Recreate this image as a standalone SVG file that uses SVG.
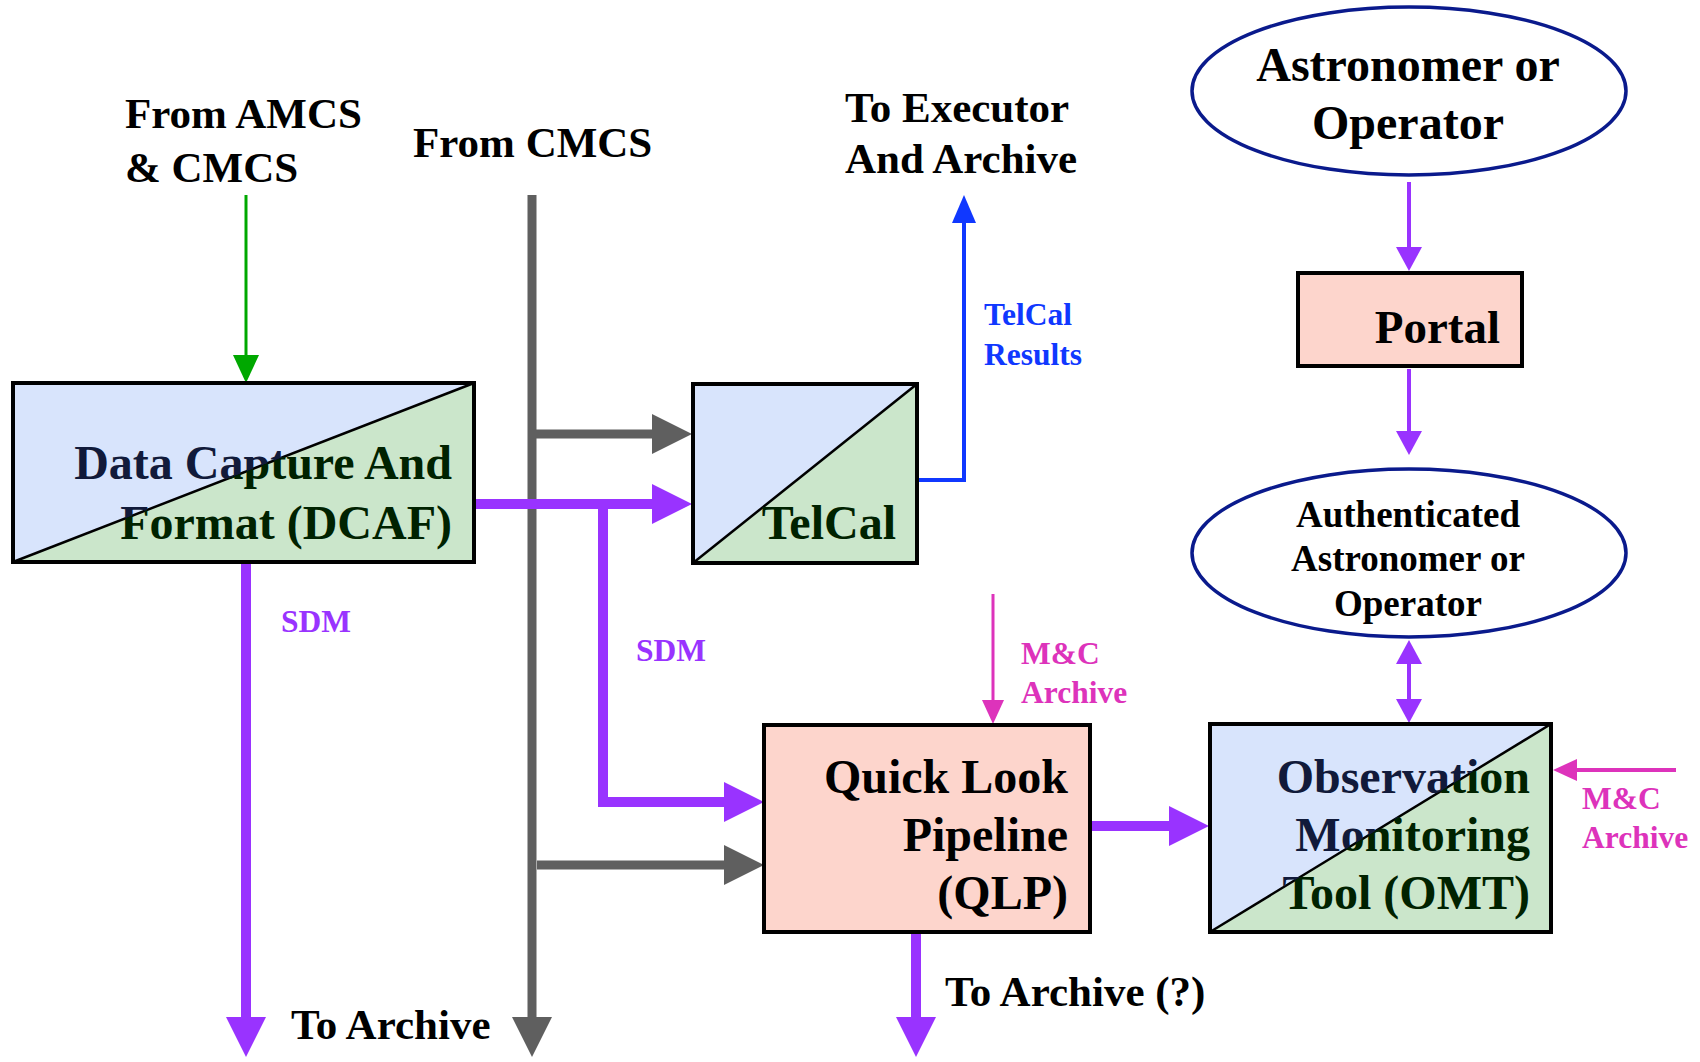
<svg xmlns="http://www.w3.org/2000/svg" width="1700" height="1062" viewBox="0 0 1700 1062">
<style>
text{font-family:"Liberation Serif","Times New Roman",serif;font-weight:bold}
.big{font-size:43px;fill:#000}
.node{font-size:48px}
.lbl{font-size:31.5px}
.box{fill:none;stroke:#000;stroke-width:4}
.diag{stroke:#000;stroke-width:2.5}
.fb{fill:#d8e4fc}
.fg{fill:#cbe6cb}
.fs{fill:#fdd5cc}
.ell{fill:#fff;stroke:#0a1a8c;stroke-width:3.5}
.pb{fill:none;stroke:#9933ff;stroke-width:10}
.gb{fill:none;stroke:#5f5f5f;stroke-width:9}
.ps{fill:none;stroke:#9933ff;stroke-width:4}
.tn{fill:#111a3a}
.tg{fill:#002200}
</style>
<defs>
<marker id="mPB" markerUnits="userSpaceOnUse" markerWidth="40" markerHeight="40" refX="0" refY="20" orient="auto"><path d="M0,0 L40,20 L0,40 Z" fill="#9933ff"/></marker>
<marker id="mGB" markerUnits="userSpaceOnUse" markerWidth="40" markerHeight="40" refX="0" refY="20" orient="auto"><path d="M0,0 L40,20 L0,40 Z" fill="#5f5f5f"/></marker>
<marker id="mPS" markerUnits="userSpaceOnUse" markerWidth="24" markerHeight="26" refX="0" refY="13" orient="auto-start-reverse"><path d="M0,0 L24,13 L0,26 Z" fill="#9933ff"/></marker>
<marker id="mGr" markerUnits="userSpaceOnUse" markerWidth="28" markerHeight="26" refX="0" refY="13" orient="auto"><path d="M0,0 L28,13 L0,26 Z" fill="#00a800"/></marker>
<marker id="mBl" markerUnits="userSpaceOnUse" markerWidth="28" markerHeight="24" refX="0" refY="12" orient="auto"><path d="M0,0 L28,12 L0,24 Z" fill="#1038ff"/></marker>
<marker id="mMg" markerUnits="userSpaceOnUse" markerWidth="24" markerHeight="22" refX="0" refY="11" orient="auto"><path d="M0,0 L24,11 L0,22 Z" fill="#dd33bb"/></marker>
<clipPath id="cDcafU"><polygon points="13,383 474,383 13,562"/></clipPath>
<clipPath id="cDcafL"><polygon points="474,383 474,562 13,562"/></clipPath>
<clipPath id="cTelU"><polygon points="693,384 917,384 693,563"/></clipPath>
<clipPath id="cTelL"><polygon points="917,384 917,563 693,563"/></clipPath>
<clipPath id="cOmtU"><polygon points="1210,724 1551,724 1210,932"/></clipPath>
<clipPath id="cOmtL"><polygon points="1551,724 1551,932 1210,932"/></clipPath>
</defs>
<rect width="1700" height="1062" fill="#fff"/>

<g id="labels">
<text class="big" x="125" y="128">From AMCS</text>
<text class="big" x="125" y="182">&amp; CMCS</text>
<text class="big" x="413" y="157">From CMCS</text>
<text class="big" x="845" y="122">To Executor</text>
<text class="big" x="845" y="173">And Archive</text>
<text class="lbl" x="984" y="325" fill="#1038ff">TelCal</text>
<text class="lbl" x="984" y="365" fill="#1038ff">Results</text>
<text class="lbl" x="281" y="632" fill="#9933ff">SDM</text>
<text class="lbl" x="636" y="661" fill="#9933ff">SDM</text>
<text class="lbl" x="1021" y="664" fill="#dd33bb">M&amp;C</text>
<text class="lbl" x="1021" y="703" fill="#dd33bb">Archive</text>
<text class="lbl" x="1582" y="809" fill="#dd33bb">M&amp;C</text>
<text class="lbl" x="1582" y="848" fill="#dd33bb">Archive</text>
<text class="big" x="291" y="1039">To Archive</text>
<text class="big" x="945" y="1006">To Archive (?)</text>
</g>

<g id="connectors">
<line x1="246" y1="195" x2="246" y2="355" stroke="#00a800" stroke-width="3" marker-end="url(#mGr)"/>
<line class="gb" x1="532" y1="195" x2="532" y2="1017" marker-end="url(#mGB)"/>
<line class="gb" x1="532" y1="434" x2="652" y2="434" marker-end="url(#mGB)"/>
<line class="gb" x1="537" y1="865" x2="724" y2="865" marker-end="url(#mGB)"/>
<line class="pb" x1="474" y1="504" x2="652" y2="504" marker-end="url(#mPB)"/>
<path class="pb" d="M603,504 V802 H724" marker-end="url(#mPB)"/>
<line class="pb" x1="246" y1="562" x2="246" y2="1017" marker-end="url(#mPB)"/>
<path d="M917,480 H964 V223" fill="none" stroke="#1038ff" stroke-width="4" marker-end="url(#mBl)"/>
<line class="ps" x1="1409" y1="182" x2="1409" y2="247" marker-end="url(#mPS)"/>
<line class="ps" x1="1409" y1="369" x2="1409" y2="431" marker-end="url(#mPS)"/>
<line class="ps" x1="1409" y1="664" x2="1409" y2="699" marker-start="url(#mPS)" marker-end="url(#mPS)"/>
<line x1="993" y1="594" x2="993" y2="700" stroke="#dd33bb" stroke-width="3" marker-end="url(#mMg)"/>
<line class="pb" x1="1090" y1="826" x2="1169" y2="826" marker-end="url(#mPB)"/>
<line class="pb" x1="916" y1="932" x2="916" y2="1017" marker-end="url(#mPB)"/>
<line x1="1676" y1="770" x2="1577" y2="770" stroke="#dd33bb" stroke-width="4" marker-end="url(#mMg)"/>
</g>

<g id="astronomer">
<ellipse class="ell" cx="1409" cy="91" rx="217" ry="84"/>
<text x="1408" y="81" text-anchor="middle" font-size="48" fill="#000">Astronomer or</text>
<text x="1408" y="139" text-anchor="middle" font-size="48" fill="#000">Operator</text>
</g>

<g id="portal">
<rect x="1298" y="273" width="224" height="93" class="fs"/>
<rect x="1298" y="273" width="224" height="93" class="box"/>
<text x="1500" y="343" text-anchor="end" font-size="47" fill="#000">Portal</text>
</g>

<g id="authenticated">
<ellipse class="ell" cx="1409" cy="553" rx="217" ry="84"/>
<text x="1408" y="527" text-anchor="middle" font-size="37" fill="#000">Authenticated</text>
<text x="1408" y="571" text-anchor="middle" font-size="37" fill="#000">Astronomer or</text>
<text x="1408" y="616" text-anchor="middle" font-size="37" fill="#000">Operator</text>
</g>

<g id="dcaf">
<rect x="13" y="383" width="461" height="179" class="fg"/>
<polygon points="13,383 474,383 13,562" class="fb"/>
<line x1="13" y1="562" x2="474" y2="383" class="diag"/>
<g clip-path="url(#cDcafU)" class="tn"><text x="452" y="479" text-anchor="end" class="node">Data Capture And</text><text x="452" y="539" text-anchor="end" class="node">Format (DCAF)</text></g>
<g clip-path="url(#cDcafL)" class="tg"><text x="452" y="479" text-anchor="end" class="node">Data Capture And</text><text x="452" y="539" text-anchor="end" class="node">Format (DCAF)</text></g>
<rect x="13" y="383" width="461" height="179" class="box"/>
</g>

<g id="telcal">
<rect x="693" y="384" width="224" height="179" class="fg"/>
<polygon points="693,384 917,384 693,563" class="fb"/>
<line x1="693" y1="563" x2="917" y2="384" class="diag"/>
<g clip-path="url(#cTelU)" class="tn"><text x="896" y="539" text-anchor="end" class="node">TelCal</text></g>
<g clip-path="url(#cTelL)" class="tg"><text x="896" y="539" text-anchor="end" class="node">TelCal</text></g>
<rect x="693" y="384" width="224" height="179" class="box"/>
</g>

<g id="qlp">
<rect x="764" y="725" width="326" height="207" class="fs"/>
<rect x="764" y="725" width="326" height="207" class="box"/>
<text x="1068" y="793" text-anchor="end" class="node" fill="#000">Quick Look</text>
<text x="1068" y="851" text-anchor="end" class="node" fill="#000">Pipeline</text>
<text x="1068" y="909" text-anchor="end" class="node" fill="#000">(QLP)</text>
</g>

<g id="omt">
<rect x="1210" y="724" width="341" height="208" class="fg"/>
<polygon points="1210,724 1551,724 1210,932" class="fb"/>
<line x1="1210" y1="932" x2="1551" y2="724" class="diag"/>
<g clip-path="url(#cOmtU)" class="tn"><text x="1530" y="793" text-anchor="end" class="node">Observation</text><text x="1530" y="851" text-anchor="end" class="node">Monitoring</text><text x="1530" y="909" text-anchor="end" class="node">Tool (OMT)</text></g>
<g clip-path="url(#cOmtL)" class="tg"><text x="1530" y="793" text-anchor="end" class="node">Observation</text><text x="1530" y="851" text-anchor="end" class="node">Monitoring</text><text x="1530" y="909" text-anchor="end" class="node">Tool (OMT)</text></g>
<rect x="1210" y="724" width="341" height="208" class="box"/>
</g>
</svg>
